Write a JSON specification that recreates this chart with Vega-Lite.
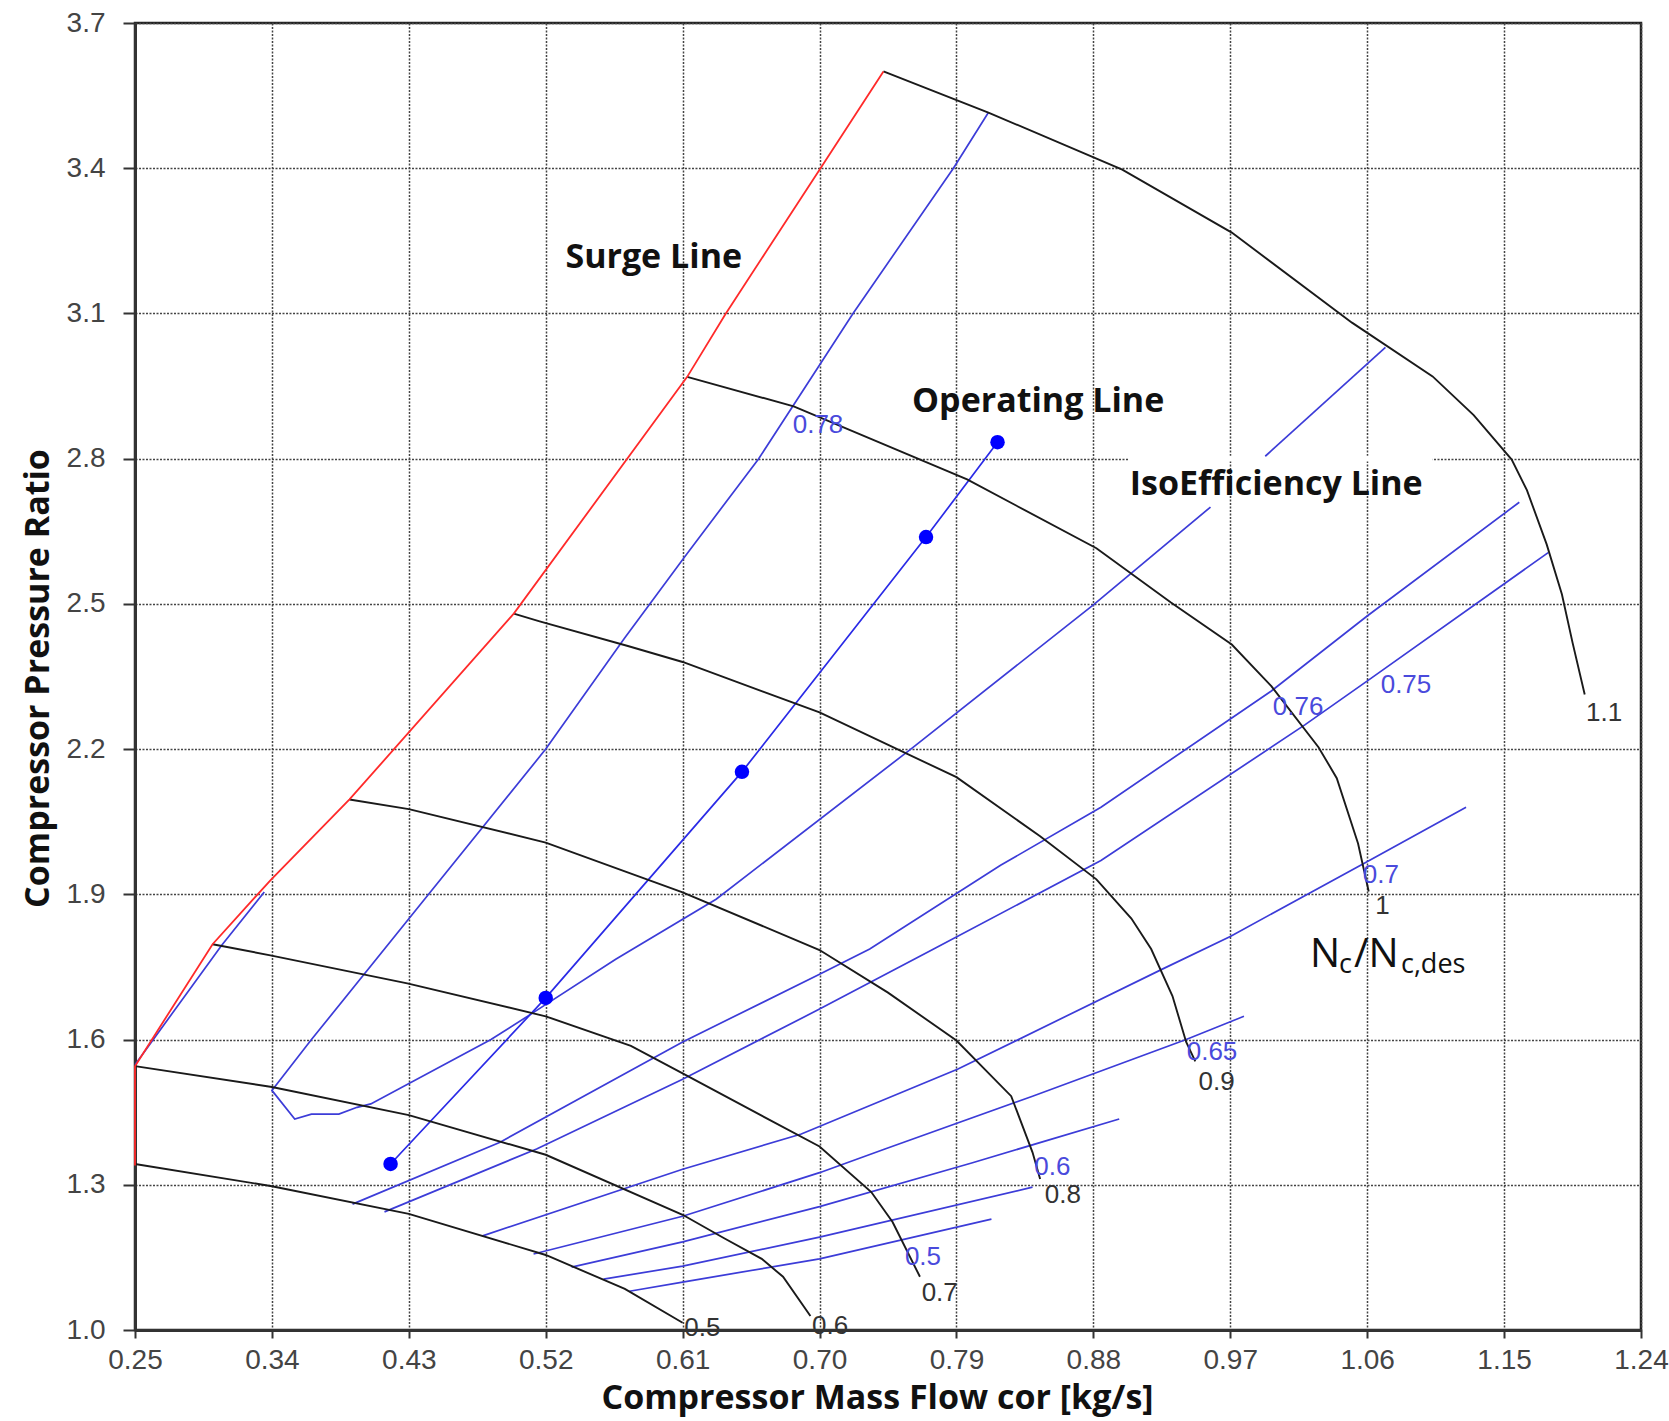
{
  "$schema": "https://vega.github.io/schema/vega-lite/v6.json",
  "width": 1506,
  "height": 1307,
  "autosize": {"type": "none"},
  "padding": {"left": 135, "top": 23, "right": 28, "bottom": 91},
  "background": "white",
  "datasets": {
    "speed": [
      {"s": "0.5", "x": 0.25, "y": 1.343}, {"s": "0.5", "x": 0.34, "y": 1.297}, {"s": "0.5", "x": 0.43, "y": 1.24}, {"s": "0.5", "x": 0.52, "y": 1.155}, {"s": "0.5", "x": 0.572, "y": 1.085}, {"s": "0.5", "x": 0.61, "y": 1.015},
      {"s": "0.6", "x": 0.25, "y": 1.545}, {"s": "0.6", "x": 0.34, "y": 1.502}, {"s": "0.6", "x": 0.43, "y": 1.444}, {"s": "0.6", "x": 0.52, "y": 1.362}, {"s": "0.6", "x": 0.61, "y": 1.238}, {"s": "0.6", "x": 0.637, "y": 1.19}, {"s": "0.6", "x": 0.662, "y": 1.147}, {"s": "0.6", "x": 0.676, "y": 1.11}, {"s": "0.6", "x": 0.694, "y": 1.029},
      {"s": "0.7", "x": 0.301, "y": 1.797}, {"s": "0.7", "x": 0.339, "y": 1.774}, {"s": "0.7", "x": 0.429, "y": 1.716}, {"s": "0.7", "x": 0.52, "y": 1.648}, {"s": "0.7", "x": 0.576, "y": 1.587}, {"s": "0.7", "x": 0.61, "y": 1.53}, {"s": "0.7", "x": 0.7, "y": 1.379}, {"s": "0.7", "x": 0.734, "y": 1.285}, {"s": "0.7", "x": 0.748, "y": 1.223}, {"s": "0.7", "x": 0.766, "y": 1.11},
      {"s": "0.8", "x": 0.391, "y": 2.096}, {"s": "0.8", "x": 0.43, "y": 2.076}, {"s": "0.8", "x": 0.52, "y": 2.007}, {"s": "0.8", "x": 0.61, "y": 1.904}, {"s": "0.8", "x": 0.7, "y": 1.785}, {"s": "0.8", "x": 0.745, "y": 1.697}, {"s": "0.8", "x": 0.79, "y": 1.598}, {"s": "0.8", "x": 0.826, "y": 1.483}, {"s": "0.8", "x": 0.84, "y": 1.367}, {"s": "0.8", "x": 0.845, "y": 1.312},
      {"s": "0.9", "x": 0.499, "y": 2.48}, {"s": "0.9", "x": 0.516, "y": 2.464}, {"s": "0.9", "x": 0.574, "y": 2.413}, {"s": "0.9", "x": 0.61, "y": 2.38}, {"s": "0.9", "x": 0.7, "y": 2.276}, {"s": "0.9", "x": 0.79, "y": 2.142}, {"s": "0.9", "x": 0.845, "y": 2.02}, {"s": "0.9", "x": 0.882, "y": 1.931}, {"s": "0.9", "x": 0.905, "y": 1.85}, {"s": "0.9", "x": 0.918, "y": 1.787}, {"s": "0.9", "x": 0.932, "y": 1.69}, {"s": "0.9", "x": 0.941, "y": 1.595}, {"s": "0.9", "x": 0.947, "y": 1.555},
      {"s": "1", "x": 0.613, "y": 2.969}, {"s": "1", "x": 0.683, "y": 2.908}, {"s": "1", "x": 0.797, "y": 2.757}, {"s": "1", "x": 0.882, "y": 2.615}, {"s": "1", "x": 0.931, "y": 2.503}, {"s": "1", "x": 0.971, "y": 2.416}, {"s": "1", "x": 0.997, "y": 2.33}, {"s": "1", "x": 1.028, "y": 2.204}, {"s": "1", "x": 1.04, "y": 2.14}, {"s": "1", "x": 1.054, "y": 2.005}, {"s": "1", "x": 1.061, "y": 1.906},
      {"s": "1.1", "x": 0.742, "y": 3.6}, {"s": "1.1", "x": 0.811, "y": 3.515}, {"s": "1.1", "x": 0.899, "y": 3.397}, {"s": "1.1", "x": 0.971, "y": 3.267}, {"s": "1.1", "x": 1.05, "y": 3.081}, {"s": "1.1", "x": 1.103, "y": 2.97}, {"s": "1.1", "x": 1.13, "y": 2.89}, {"s": "1.1", "x": 1.155, "y": 2.798}, {"s": "1.1", "x": 1.165, "y": 2.735}, {"s": "1.1", "x": 1.178, "y": 2.623}, {"s": "1.1", "x": 1.188, "y": 2.52}, {"s": "1.1", "x": 1.195, "y": 2.42}, {"s": "1.1", "x": 1.203, "y": 2.313}
    ],
    "surge": [
      {"x": 0.25, "y": 1.34}, {"x": 0.25, "y": 1.545}, {"x": 0.301, "y": 1.797}, {"x": 0.339, "y": 1.929}, {"x": 0.391, "y": 2.096}, {"x": 0.499, "y": 2.48}, {"x": 0.613, "y": 2.969}, {"x": 0.638, "y": 3.098}, {"x": 0.7, "y": 3.397}, {"x": 0.742, "y": 3.6}
    ],
    "eff": [
      {"e": "s", "x": 0.25, "y": 1.548}, {"e": "s", "x": 0.307, "y": 1.795}, {"e": "s", "x": 0.335, "y": 1.905},
      {"e": "0.78a", "x": 0.811, "y": 3.515}, {"e": "0.78a", "x": 0.788, "y": 3.4}, {"e": "0.78a", "x": 0.722, "y": 3.1}, {"e": "0.78a", "x": 0.66, "y": 2.8}, {"e": "0.78a", "x": 0.612, "y": 2.6}, {"e": "0.78a", "x": 0.572, "y": 2.43}, {"e": "0.78a", "x": 0.52, "y": 2.2}, {"e": "0.78a", "x": 0.443, "y": 1.9}, {"e": "0.78a", "x": 0.366, "y": 1.6}, {"e": "0.78a", "x": 0.34, "y": 1.495}, {"e": "0.78a", "x": 0.355, "y": 1.436}, {"e": "0.78a", "x": 0.366, "y": 1.446}, {"e": "0.78a", "x": 0.384, "y": 1.446}, {"e": "0.78a", "x": 0.396, "y": 1.46}, {"e": "0.78a", "x": 0.405, "y": 1.467}, {"e": "0.78a", "x": 0.484, "y": 1.6}, {"e": "0.78a", "x": 0.51, "y": 1.652}, {"e": "0.78a", "x": 0.566, "y": 1.766}, {"e": "0.78a", "x": 0.632, "y": 1.89}, {"e": "0.78a", "x": 0.76, "y": 2.2}, {"e": "0.78a", "x": 0.88, "y": 2.498}, {"e": "0.78a", "x": 0.957, "y": 2.7},
      {"e": "0.78b", "x": 0.993, "y": 2.805}, {"e": "0.78b", "x": 1.072, "y": 3.03},
      {"e": "0.76", "x": 0.393, "y": 1.26}, {"e": "0.76", "x": 0.49, "y": 1.388}, {"e": "0.76", "x": 0.61, "y": 1.595}, {"e": "0.76", "x": 0.7, "y": 1.735}, {"e": "0.76", "x": 0.733, "y": 1.787}, {"e": "0.76", "x": 0.819, "y": 1.96}, {"e": "0.76", "x": 0.885, "y": 2.08}, {"e": "0.76", "x": 0.997, "y": 2.32}, {"e": "0.76", "x": 1.06, "y": 2.475}, {"e": "0.76", "x": 1.16, "y": 2.71},
      {"e": "0.75", "x": 0.414, "y": 1.244}, {"e": "0.75", "x": 0.514, "y": 1.374}, {"e": "0.75", "x": 0.61, "y": 1.518}, {"e": "0.75", "x": 0.7, "y": 1.663}, {"e": "0.75", "x": 0.775, "y": 1.787}, {"e": "0.75", "x": 0.885, "y": 1.97}, {"e": "0.75", "x": 1.019, "y": 2.25}, {"e": "0.75", "x": 1.062, "y": 2.345}, {"e": "0.75", "x": 1.179, "y": 2.606},
      {"e": "0.7", "x": 0.478, "y": 1.194}, {"e": "0.7", "x": 0.61, "y": 1.332}, {"e": "0.7", "x": 0.688, "y": 1.405}, {"e": "0.7", "x": 0.791, "y": 1.539}, {"e": "0.7", "x": 0.925, "y": 1.745}, {"e": "0.7", "x": 0.97, "y": 1.813}, {"e": "0.7", "x": 1.059, "y": 1.966}, {"e": "0.7", "x": 1.125, "y": 2.08},
      {"e": "0.65", "x": 0.512, "y": 1.157}, {"e": "0.65", "x": 0.61, "y": 1.235}, {"e": "0.65", "x": 0.7, "y": 1.325}, {"e": "0.65", "x": 0.743, "y": 1.374}, {"e": "0.65", "x": 0.84, "y": 1.483}, {"e": "0.65", "x": 0.941, "y": 1.6}, {"e": "0.65", "x": 0.979, "y": 1.648},
      {"e": "0.6", "x": 0.537, "y": 1.13}, {"e": "0.6", "x": 0.61, "y": 1.182}, {"e": "0.6", "x": 0.7, "y": 1.255}, {"e": "0.6", "x": 0.8, "y": 1.345}, {"e": "0.6", "x": 0.897, "y": 1.436},
      {"e": "0.55", "x": 0.558, "y": 1.105}, {"e": "0.55", "x": 0.61, "y": 1.132}, {"e": "0.55", "x": 0.7, "y": 1.192}, {"e": "0.55", "x": 0.84, "y": 1.295},
      {"e": "0.5", "x": 0.575, "y": 1.08}, {"e": "0.5", "x": 0.61, "y": 1.099}, {"e": "0.5", "x": 0.7, "y": 1.147}, {"e": "0.5", "x": 0.813, "y": 1.229}
    ],
    "op": [
      {"x": 0.418, "y": 1.343}, {"x": 0.52, "y": 1.686}, {"x": 0.649, "y": 2.153}, {"x": 0.77, "y": 2.638}, {"x": 0.817, "y": 2.834}
    ],
    "gap": [
      {"x": 0.903, "x2": 1.103, "y": 2.794, "y2": 2.806}
    ],
    "spdlab": [
      {"t": "0.5", "x": 0.623, "y": 1.004}, {"t": "0.6", "x": 0.707, "y": 1.008}, {"t": "0.7", "x": 0.779, "y": 1.076}, {"t": "0.8", "x": 0.86, "y": 1.279}, {"t": "0.9", "x": 0.961, "y": 1.513}, {"t": "1", "x": 1.07, "y": 1.876}, {"t": "1.1", "x": 1.2158, "y": 2.275}
    ],
    "efflab": [
      {"t": "0.78", "x": 0.699, "y": 2.869}, {"t": "0.76", "x": 1.0146, "y": 2.287}, {"t": "0.75", "x": 1.0855, "y": 2.332}, {"t": "0.7", "x": 1.069, "y": 1.94}, {"t": "0.65", "x": 0.958, "y": 1.574}, {"t": "0.6", "x": 0.853, "y": 1.337}, {"t": "0.5", "x": 0.768, "y": 1.151}
    ],
    "notes": [
      {"t": "Surge Line", "x": 0.591, "y": 3.194}, {"t": "Operating Line", "x": 0.8437, "y": 2.896}, {"t": "IsoEfficiency Line", "x": 1.0002, "y": 2.725}
    ],
    "nbig": [
      {"t": "N", "x": 1.0224, "y": 1.75}, {"t": "/N", "x": 1.0513, "y": 1.75}
    ],
    "nsmall": [
      {"t": "c", "x": 1.0415, "y": 1.737}, {"t": "c,des", "x": 1.0822, "y": 1.737}
    ]
  },
  "encoding": {
    "x": {
      "field": "x", "type": "quantitative",
      "scale": {"domain": [0.25, 1.24], "nice": false, "zero": false},
      "axis": {
        "values": [0.25, 0.34, 0.43, 0.52, 0.61, 0.70, 0.79, 0.88, 0.97, 1.06, 1.15, 1.24],
        "format": ".2f",
        "title": "Compressor Mass Flow cor [kg/s]",
        "titleX": 742, "titleY": 78, "titleBaseline": "alphabetic", "titleAlign": "center",
        "tickSize": 8, "labelPadding": 8
      }
    },
    "y": {
      "field": "y", "type": "quantitative",
      "scale": {"domain": [1.0, 3.7], "nice": false, "zero": false},
      "axis": {
        "values": [1.0, 1.3, 1.6, 1.9, 2.2, 2.5, 2.8, 3.1, 3.4, 3.7],
        "format": ".1f",
        "title": "Compressor Pressure Ratio",
        "titleX": -87, "titleY": 655, "titleBaseline": "alphabetic", "titleAlign": "center", "titleAngle": -90,
        "tickSize": 12, "labelPadding": 18
      }
    }
  },
  "layer": [
    {
      "data": {"name": "gap"},
      "mark": {"type": "rect", "color": "white"},
      "encoding": {"x2": {"field": "x2"}, "y2": {"field": "y2"}}
    },
    {
      "data": {"name": "eff"},
      "mark": {"type": "line", "color": "#3c3cd8", "strokeWidth": 1.7},
      "encoding": {"detail": {"field": "e"}, "order": {"value": null}}
    },
    {
      "data": {"name": "op"},
      "mark": {"type": "line", "color": "#2a2ae6", "strokeWidth": 1.7},
      "encoding": {"order": {"value": null}}
    },
    {
      "data": {"name": "speed"},
      "mark": {"type": "line", "color": "#1a1a1a", "strokeWidth": 1.9},
      "encoding": {"detail": {"field": "s"}, "order": {"value": null}}
    },
    {
      "data": {"name": "surge"},
      "mark": {"type": "line", "color": "#ff2a2a", "strokeWidth": 1.8},
      "encoding": {"order": {"value": null}}
    },
    {
      "data": {"name": "op"},
      "mark": {"type": "point", "filled": true, "size": 210, "color": "#0000ff", "opacity": 1}
    },
    {
      "data": {"name": "spdlab"},
      "mark": {"type": "text", "font": "Liberation Sans Narrow, Liberation Sans, sans-serif", "fontSize": 26, "color": "#333333", "align": "center", "baseline": "middle"},
      "encoding": {"text": {"field": "t", "type": "nominal"}}
    },
    {
      "data": {"name": "efflab"},
      "mark": {"type": "text", "font": "Liberation Sans Narrow, Liberation Sans, sans-serif", "fontSize": 26, "color": "#4a4adc", "align": "center", "baseline": "middle"},
      "encoding": {"text": {"field": "t", "type": "nominal"}}
    },
    {
      "data": {"name": "notes"},
      "mark": {"type": "text", "font": "Open Sans", "fontWeight": "bold", "fontSize": 34, "color": "#111111", "align": "center", "baseline": "alphabetic"},
      "encoding": {"text": {"field": "t", "type": "nominal"}}
    },
    {
      "data": {"name": "nbig"},
      "mark": {"type": "text", "font": "Open Sans", "fontSize": 40, "color": "#111111", "align": "left", "baseline": "alphabetic"},
      "encoding": {"text": {"field": "t", "type": "nominal"}}
    },
    {
      "data": {"name": "nsmall"},
      "mark": {"type": "text", "font": "Open Sans", "fontSize": 27, "color": "#111111", "align": "left", "baseline": "alphabetic"},
      "encoding": {"text": {"field": "t", "type": "nominal"}}
    }
  ],
  "config": {
    "view": {"stroke": "#222222", "strokeWidth": 2.5},
    "axis": {
      "labelFont": "Liberation Sans Narrow, Liberation Sans, sans-serif",
      "labelFontSize": 28,
      "labelColor": "#444444",
      "labelFlush": false,
      "labelOverlap": false,
      "tickColor": "#333333",
      "tickWidth": 2,
      "domainColor": "#333333",
      "domainWidth": 3,
      "grid": true,
      "gridColor": "#444444",
      "gridDash": [2, 1.5],
      "gridWidth": 1.5,
      "gridOpacity": 1,
      "titleFont": "Open Sans",
      "titleFontWeight": "bold",
      "titleFontSize": 34,
      "titleColor": "#111111"
    }
  }
}
